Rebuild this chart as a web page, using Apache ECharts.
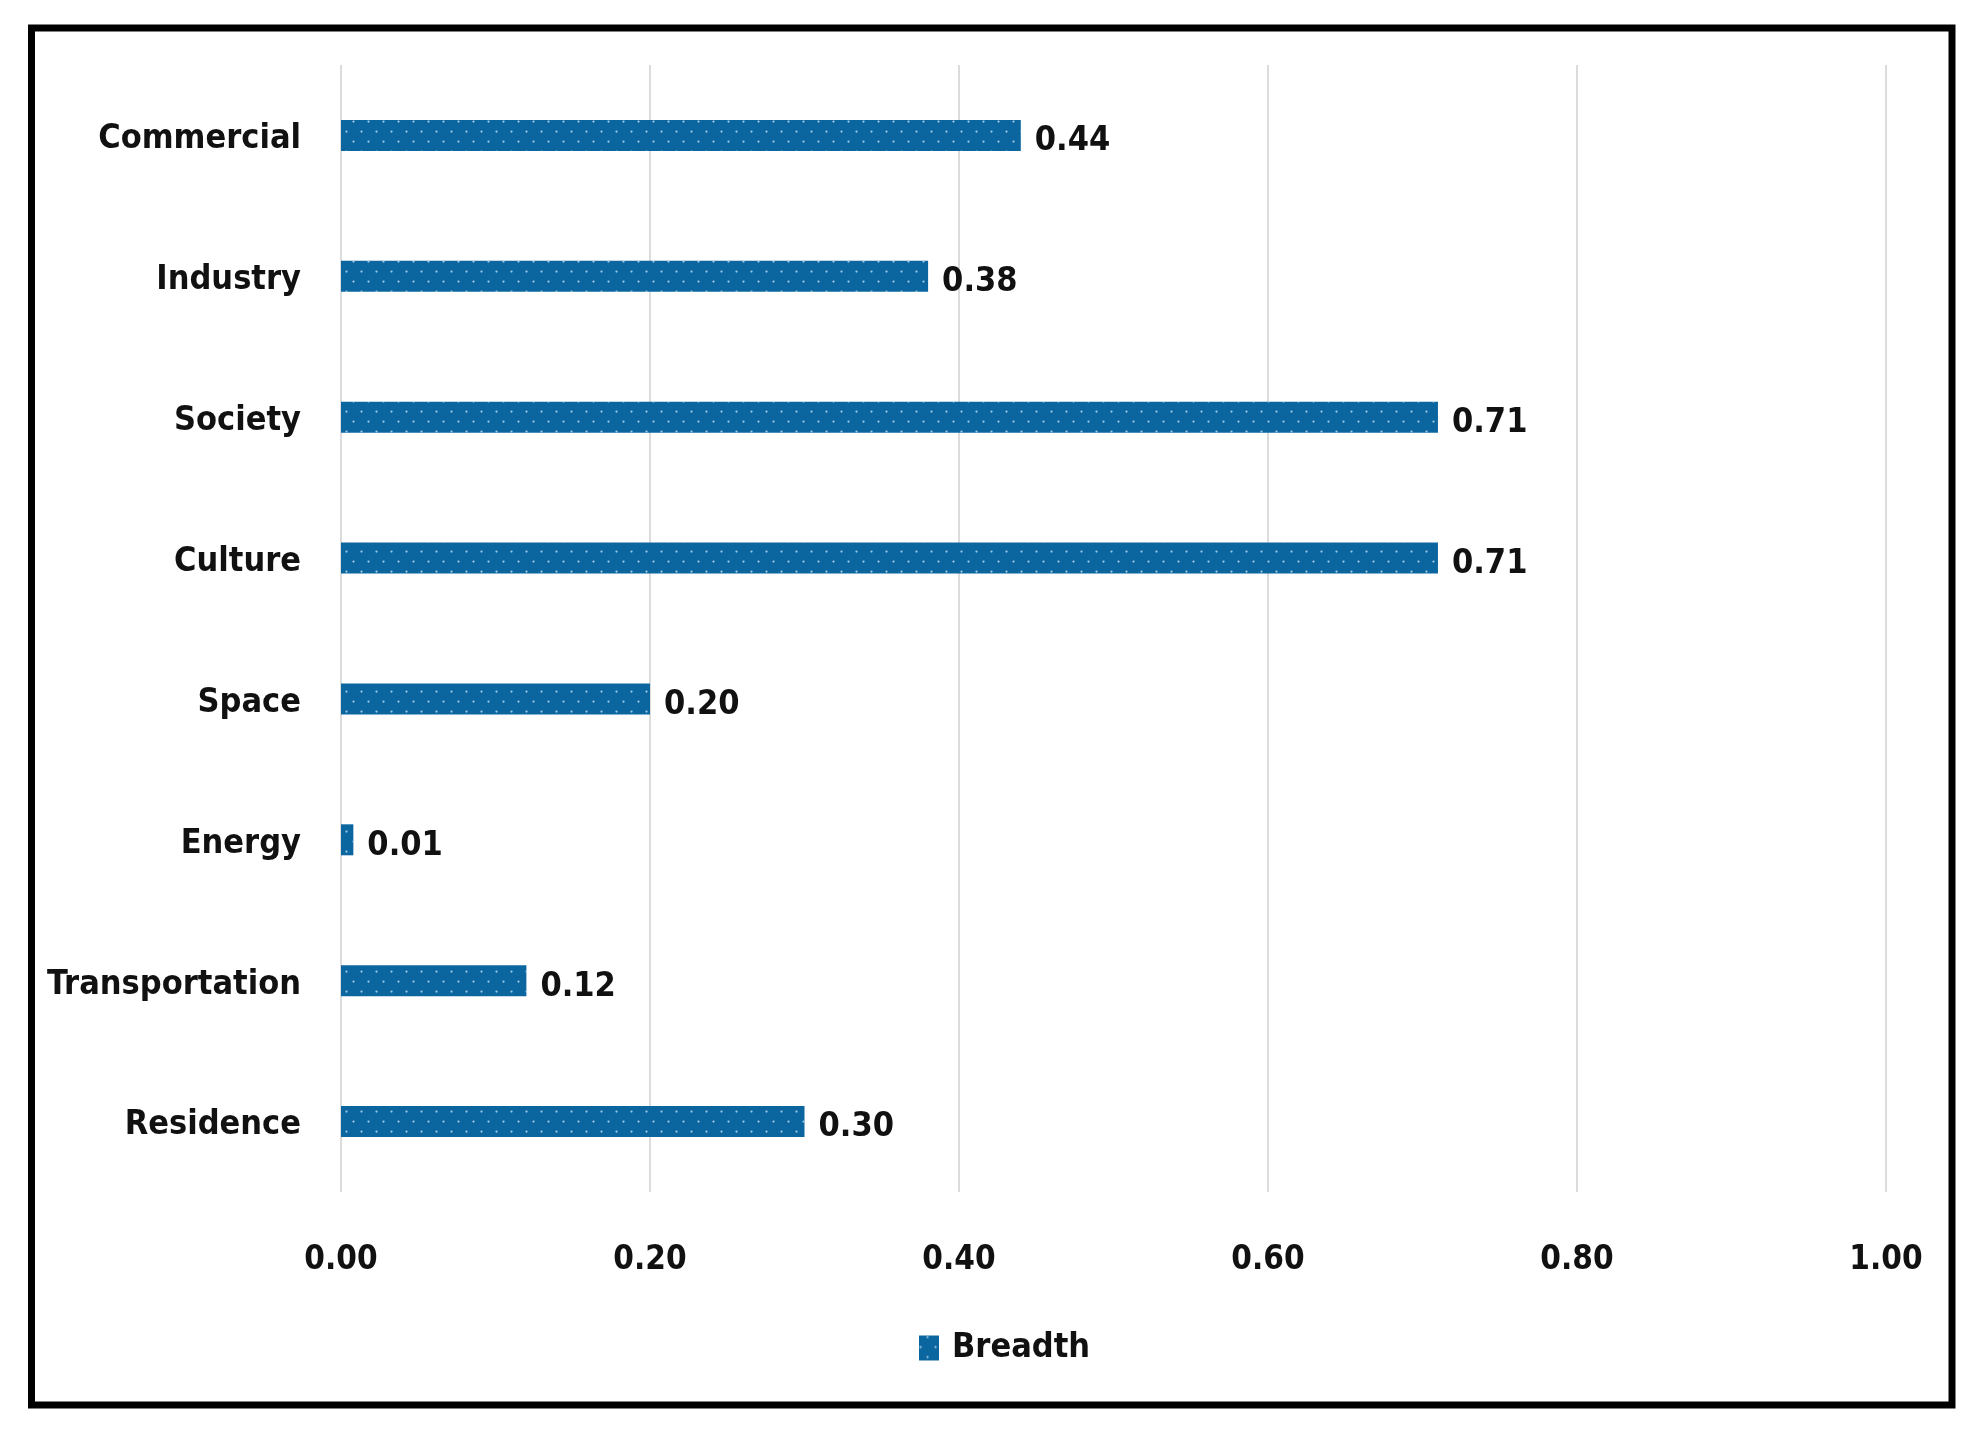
<!DOCTYPE html>
<html>
<head>
<meta charset="utf-8">
<script src="https://cdn.jsdelivr.net/npm/echarts@6/dist/echarts.min.js"></script>
<style>
html,body{margin:0;padding:0;background:#fff;}
#chart{width:1981px;height:1434px;}
</style>
</head>
<body>
<div id="chart"></div>
<script>
// Data (top to bottom as shown)
const categories = ['Commercial', 'Industry', 'Society', 'Culture', 'Space', 'Energy', 'Transportation', 'Residence'];
const breadth = [0.44, 0.38, 0.71, 0.71, 0.20, 0.008, 0.12, 0.30];
const seriesName = 'Breadth';
const xTicks = [0, 0.2, 0.4, 0.6, 0.8, 1.0];

const FONT = "'DejaVu Sans Condensed', 'Noto Sans', sans-serif";
const BAR = '#0b66a0';

const chart = echarts.init(document.getElementById('chart'), null, {renderer: 'canvas'});
chart.setOption({
  backgroundColor: '#ffffff',
  animation: false,
  graphic: [{
    type: 'rect',
    shape: {x: 31.5, y: 28, width: 1920.5, height: 1377},
    style: {fill: 'none', stroke: '#000', lineWidth: 7},
    z: 100
  }],
  grid: {left: 341, right: 95, top: 65, bottom: 242, containLabel: false},
  legend: {
    data: [seriesName],
    left: 914,
    top: 1326,
    icon: 'rect',
    itemWidth: 20,
    itemHeight: 25,
    itemGap: 10,
    textStyle: {fontFamily: FONT, fontSize: 34, fontWeight: 'bold', color: '#111', padding: [4, 0, 0, 8]}
  },
  xAxis: {
    type: 'value',
    min: xTicks[0],
    max: xTicks[xTicks.length - 1],
    interval: 0.2,
    axisLine: {show: false},
    axisTick: {show: false},
    splitLine: {show: true, lineStyle: {color: '#dcdcdc', width: 2}},
    axisLabel: {
      fontFamily: FONT, fontSize: 33, fontWeight: 'bold', color: '#111', margin: 52,
      formatter: v => v.toFixed(2)
    }
  },
  yAxis: {
    type: 'category',
    data: categories,
    inverse: true,
    axisLine: {show: false},
    axisTick: {show: false},
    splitLine: {show: false},
    axisLabel: {
      fontFamily: FONT, fontSize: 34, fontWeight: 'bold', color: '#111', margin: 40,
      formatter: v => '{c|' + v + '}',
      rich: {c: {fontFamily: FONT, fontSize: 34, fontWeight: 'bold', color: '#111', padding: [8, 0, 0, 0]}}
    }
  },
  series: [{
    name: seriesName,
    type: 'bar',
    data: breadth,
    barWidth: 31,
    itemStyle: {
      color: BAR,
      decal: {
        symbol: 'circle',
        symbolSize: 0.75,
        color: 'rgba(200,225,242,0.8)',
        dashArrayX: [[3, 12], [0, 7, 3, 5]],
        dashArrayY: [3, 7]
      }
    },
    label: {
      show: true,
      position: 'right',
      distance: 14,
      offset: [0, 6],
      fontFamily: FONT, fontSize: 34, fontWeight: 'bold', color: '#111',
      formatter: p => p.value.toFixed(2)
    }
  }]
});
</script>
</body>
</html>
